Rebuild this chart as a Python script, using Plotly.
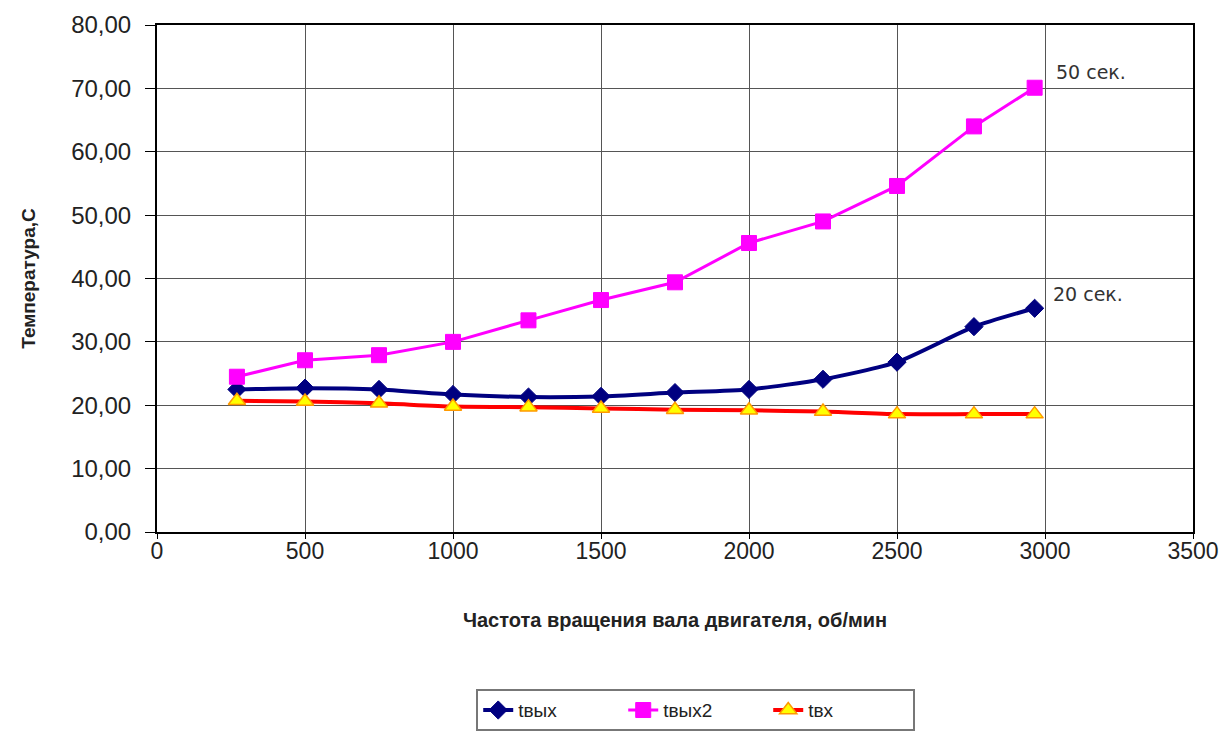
import plotly.graph_objects as go

rpm = [270, 500, 750, 1000, 1255, 1500, 1750, 2000, 2250, 2500, 2760, 2965]
t_out = [22.5, 22.7, 22.5, 21.7, 21.3, 21.4, 22.0, 22.5, 24.1, 26.8, 32.4, 35.3]
t_out2 = [24.5, 27.1, 27.9, 30.0, 33.4, 36.6, 39.4, 45.6, 49.0, 54.6, 64.0, 70.1]
t_in = [20.7, 20.6, 20.3, 19.8, 19.7, 19.5, 19.3, 19.2, 19.0, 18.6, 18.6, 18.6]

series_names = ["tвых", "tвых2", "tвх"]
x_ticks = [0, 500, 1000, 1500, 2000, 2500, 3000, 3500]
y_ticks = [0, 10, 20, 30, 40, 50, 60, 70, 80]
labels = [("50 сек.", 3030, 72.6), ("20 сек.", 3020, 37.5)]

fig = go.Figure()
fig.add_trace(go.Scatter(
    x=rpm, y=t_out, name=series_names[0], mode="lines+markers",
    line=dict(color="#000080", width=4, shape="spline", smoothing=0.6),
    marker=dict(symbol="diamond", size=14, color="#000080",
                line=dict(color="#000080", width=1))))
fig.add_trace(go.Scatter(
    x=rpm, y=t_out2, name=series_names[1], mode="lines+markers",
    line=dict(color="#ff00ff", width=3),
    marker=dict(symbol="square", size=15, color="#ff00ff",
                line=dict(color="#ff00ff", width=1))))
fig.add_trace(go.Scatter(
    x=rpm, y=t_in, name=series_names[2], mode="lines+markers",
    line=dict(color="#ff0000", width=4, shape="spline", smoothing=0.6),
    marker=dict(symbol="triangle-up", size=15, color="#ffff00",
                line=dict(color="#ff9900", width=1.5))))

for txt, xx, yy in labels:
    fig.add_annotation(x=xx, y=yy, text=txt, showarrow=False, xanchor="left",
                       yanchor="middle",
                       font=dict(family="DejaVu Sans", size=19, color="#333333"))

fig.update_layout(
    width=1224, height=737,
    margin=dict(l=157, r=31, t=25, b=205, autoexpand=False),
    paper_bgcolor="white", plot_bgcolor="white",
    separators=", ",
    font=dict(family="Liberation Sans, Arial, sans-serif", color="#222222"),
    showlegend=True,
    legend=dict(orientation="h", x=0.52, xanchor="center", y=-0.31,
                yanchor="top", bordercolor="#777777", borderwidth=2,
                font=dict(size=19, family="Liberation Sans, Arial"),
                bgcolor="white", entrywidth=100),
)

fig.update_xaxes(
    range=[0, 3500], tickvals=x_ticks, ticktext=[str(v) for v in x_ticks],
    showgrid=True, gridcolor="#555555", gridwidth=1.2,
    showline=True, linecolor="black", linewidth=2, mirror=True,
    ticks="outside", ticklen=5, tickcolor="black",
    tickfont=dict(size=23), zeroline=False, automargin=False,
    ticklabelstandoff=-8, ticklabeloverflow="allow",
    title=dict(text="<b>Частота вращения вала двигателя, об/мин</b>",
               font=dict(size=20), standoff=50),
)
fig.update_yaxes(
    range=[0, 80], tickvals=y_ticks, tickformat=".2f",
    showgrid=True, gridcolor="#555555", gridwidth=1.2,
    showline=True, linecolor="black", linewidth=2, mirror=True,
    ticks="outside", ticklen=10, tickcolor="black",
    tickfont=dict(size=24), zeroline=False, ticklabelstandoff=9,
    automargin=False,
    title=dict(text="<b>Температура,С</b>", font=dict(size=19), standoff=30),
)

fig.write_html("out.html", config={"displayModeBar": False},
               post_script="document.body.style.margin='0';")
